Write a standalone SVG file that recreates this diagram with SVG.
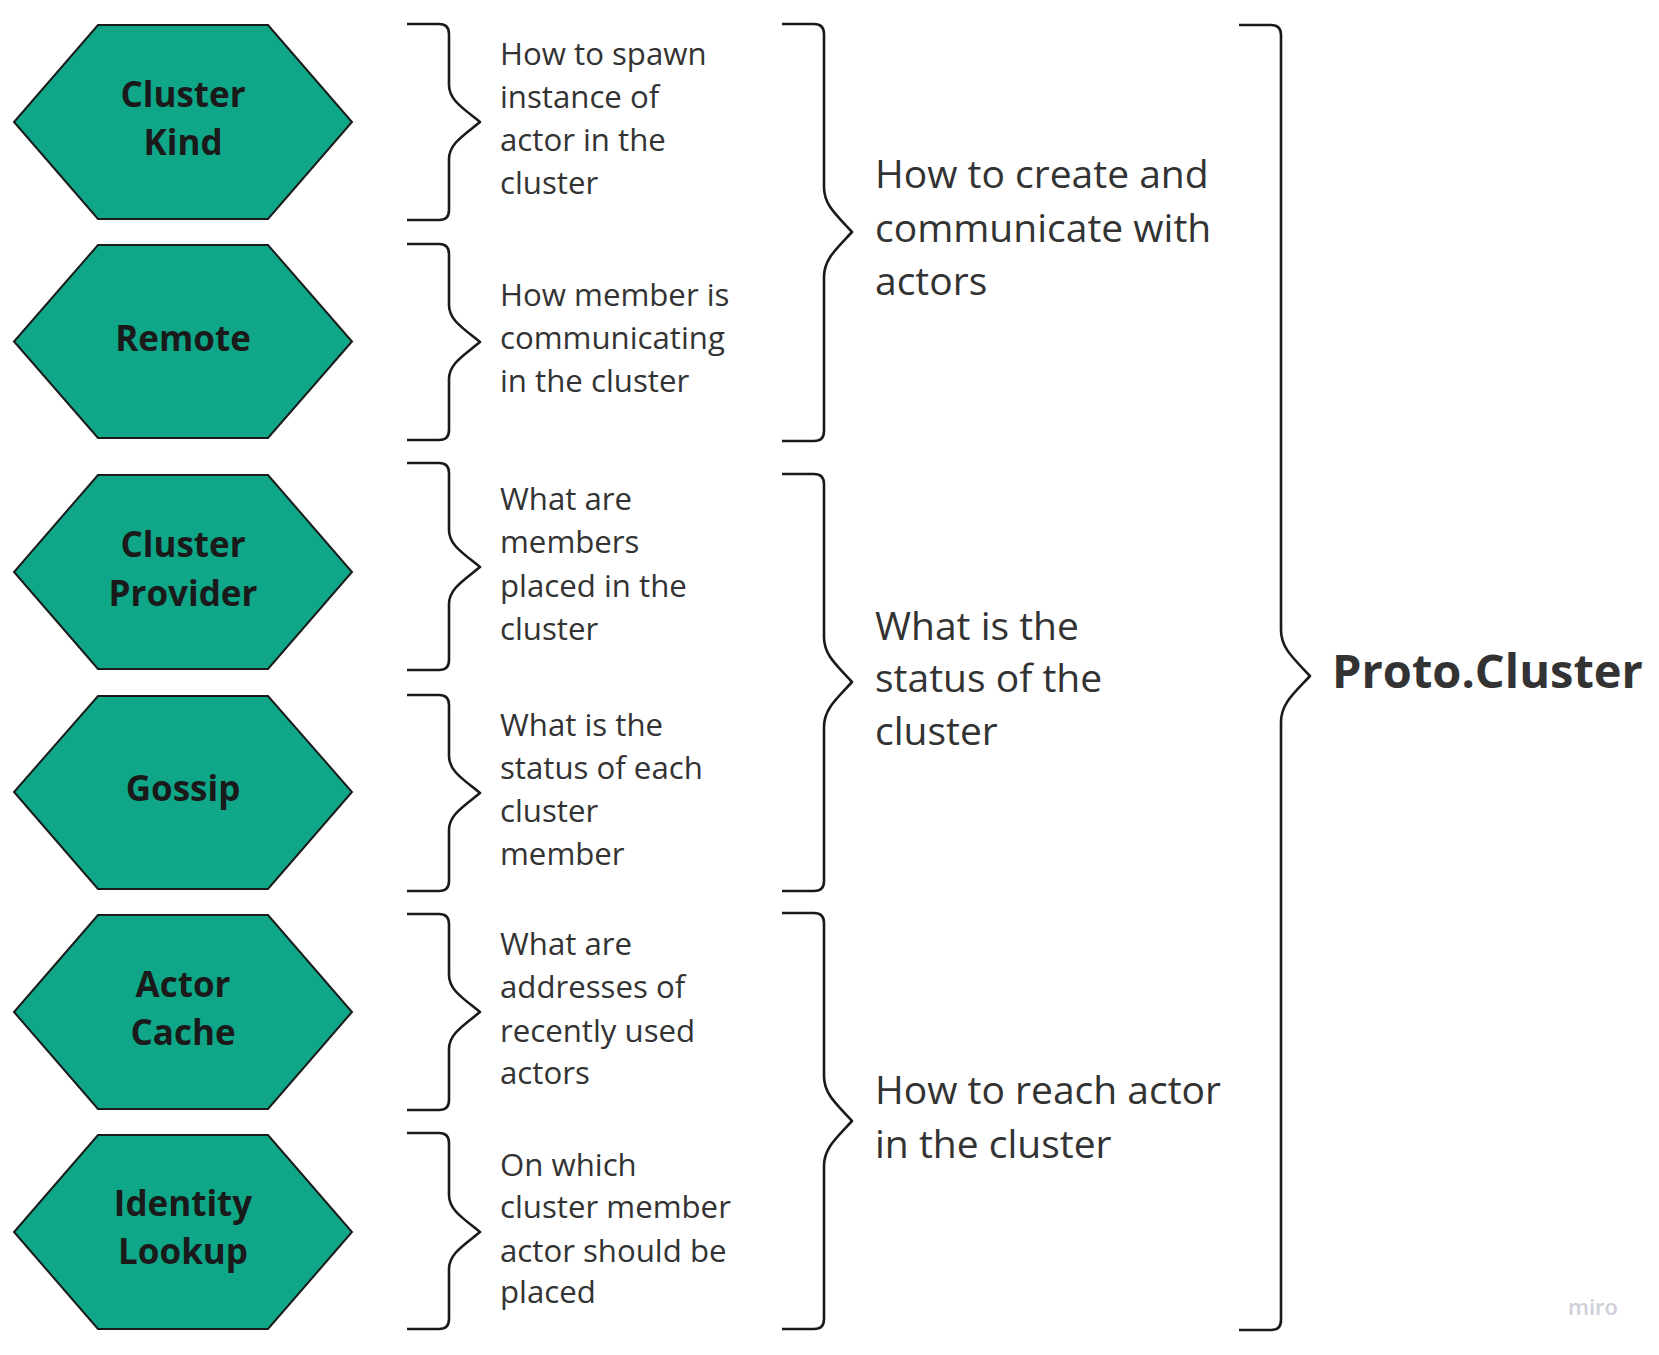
<svg xmlns="http://www.w3.org/2000/svg" width="1659" height="1355" viewBox="0 0 1659 1355">
<style>
.hex{fill:#0fa788;stroke:#1a1a1a;stroke-width:2;stroke-linejoin:miter}
.ht{font-family:"Open Sans","Noto Sans","Liberation Sans",sans-serif;font-weight:700;font-size:35px;fill:#1a1a1a;text-anchor:middle}
.br{fill:none;stroke:#1a1a1a;stroke-width:2.6;stroke-linejoin:round;stroke-linecap:butt}
.st{font-family:"Open Sans","Noto Sans","Liberation Sans",sans-serif;font-size:31.2px;fill:#333333}
.mt{font-family:"Open Sans","Noto Sans","Liberation Sans",sans-serif;font-size:39px;fill:#333333}
.pt{font-family:"Open Sans","Noto Sans","Liberation Sans",sans-serif;font-weight:700;font-size:47px;fill:#333333}
.wm{font-family:"Open Sans","Noto Sans","Liberation Sans",sans-serif;font-weight:600;font-size:22px;fill:#cfcfd8}
</style>
<rect width="1659" height="1355" fill="#ffffff"/>
<g id="node-cluster-kind">
<polygon class="hex" points="98,25 268,25 352,122 268,219 98,219 14,122"/>
<text class="ht" x="183" y="107">Cluster</text>
<text class="ht" x="183" y="155">Kind</text>
</g>
<g id="node-remote">
<polygon class="hex" points="98,245 268,245 352,341.5 268,438 98,438 14,341.5"/>
<text class="ht" x="183" y="351">Remote</text>
</g>
<g id="node-cluster-provider">
<polygon class="hex" points="98,475 268,475 352,572 268,669 98,669 14,572"/>
<text class="ht" x="183" y="557">Cluster</text>
<text class="ht" x="183" y="606">Provider</text>
</g>
<g id="node-gossip">
<polygon class="hex" points="98,696 268,696 352,792 268,889 98,889 14,792"/>
<text class="ht" x="183" y="801">Gossip</text>
</g>
<g id="node-actor-cache">
<polygon class="hex" points="98,915 268,915 352,1012 268,1109 98,1109 14,1012"/>
<text class="ht" x="183" y="997">Actor</text>
<text class="ht" x="183" y="1045">Cache</text>
</g>
<g id="node-identity-lookup">
<polygon class="hex" points="98,1135 268,1135 352,1232 268,1329 98,1329 14,1232"/>
<text class="ht" x="183" y="1216">Identity</text>
<text class="ht" x="183" y="1264">Lookup</text>
</g>
<g id="connectors">
<path class="br" d="M407,24 H439 Q449,24 449,34 V85 C449,99.8 462.6,107.9 480,122 C462.6,136.1 449,144.2 449,159 V210 Q449,220 439,220 H407"/>
<path class="br" d="M407,244 H439 Q449,244 449,254 V305 C449,319.8 462.6,327.9 480,342 C462.6,356.1 449,364.2 449,379 V430 Q449,440 439,440 H407"/>
<path class="br" d="M407,463 H439 Q449,463 449,473 V530 C449,544.8 462.6,552.9 480,567 C462.6,581.1 449,589.2 449,604 V660 Q449,670 439,670 H407"/>
<path class="br" d="M407,695 H439 Q449,695 449,705 V756 C449,770.8 462.6,778.9 480,793 C462.6,807.1 449,815.2 449,830 V881 Q449,891 439,891 H407"/>
<path class="br" d="M407,914 H439 Q449,914 449,924 V975 C449,989.8 462.6,997.9 480,1012 C462.6,1026.1 449,1034.2 449,1049 V1100 Q449,1110 439,1110 H407"/>
<path class="br" d="M407,1133 H439 Q449,1133 449,1143 V1195 C449,1209.8 462.6,1217.9 480,1232 C462.6,1246.1 449,1254.2 449,1269 V1319 Q449,1329 439,1329 H407"/>
<path class="br" d="M782,24 H814 Q824,24 824,34 V187 C824,205 836.3,214.9 852,232 C836.3,249.1 824,259 824,277 V431 Q824,441 814,441 H782"/>
<path class="br" d="M782,474 H814 Q824,474 824,484 V637 C824,655 836.3,664.9 852,682 C836.3,699.1 824,709 824,727 V881 Q824,891 814,891 H782"/>
<path class="br" d="M782,913 H814 Q824,913 824,923 V1076 C824,1094 836.3,1103.9 852,1121 C836.3,1138.1 824,1148 824,1166 V1319 Q824,1329 814,1329 H782"/>
<path class="br" d="M1239,25 H1271 Q1281,25 1281,35 V630 C1281,648.4 1293.8,658.5 1310,676 C1293.8,693.5 1281,703.6 1281,722 V1320 Q1281,1330 1271,1330 H1239"/>
</g>
<g id="desc-cluster-kind">
<text class="st" x="500" y="65">How to spawn</text>
<text class="st" x="500" y="108">instance of</text>
<text class="st" x="500" y="151">actor in the</text>
<text class="st" x="500" y="194">cluster</text>
</g>
<g id="desc-remote">
<text class="st" x="500" y="306">How member is</text>
<text class="st" x="500" y="349">communicating</text>
<text class="st" x="500" y="392">in the cluster</text>
</g>
<g id="desc-cluster-provider">
<text class="st" x="500" y="510">What are</text>
<text class="st" x="500" y="553">members</text>
<text class="st" x="500" y="597">placed in the</text>
<text class="st" x="500" y="640">cluster</text>
</g>
<g id="desc-gossip">
<text class="st" x="500" y="736">What is the</text>
<text class="st" x="500" y="779">status of each</text>
<text class="st" x="500" y="822">cluster</text>
<text class="st" x="500" y="865">member</text>
</g>
<g id="desc-actor-cache">
<text class="st" x="500" y="955">What are</text>
<text class="st" x="500" y="998">addresses of</text>
<text class="st" x="500" y="1042">recently used</text>
<text class="st" x="500" y="1084">actors</text>
</g>
<g id="desc-identity-lookup">
<text class="st" x="500" y="1176">On which</text>
<text class="st" x="500" y="1218">cluster member</text>
<text class="st" x="500" y="1262">actor should be</text>
<text class="st" x="500" y="1303">placed</text>
</g>
<g id="group-create">
<text class="mt" x="875" y="188">How to create and</text>
<text class="mt" x="875" y="242">communicate with</text>
<text class="mt" x="875" y="295">actors</text>
</g>
<g id="group-status">
<text class="mt" x="875" y="640">What is the</text>
<text class="mt" x="875" y="692">status of the</text>
<text class="mt" x="875" y="745">cluster</text>
</g>
<g id="group-reach">
<text class="mt" x="875" y="1104">How to reach actor</text>
<text class="mt" x="875" y="1158">in the cluster</text>
</g>
<g id="root-proto-cluster">
<text class="pt" x="1332" y="688">Proto.Cluster</text>
</g>
<text class="wm" x="1568" y="1315">miro</text>
</svg>
